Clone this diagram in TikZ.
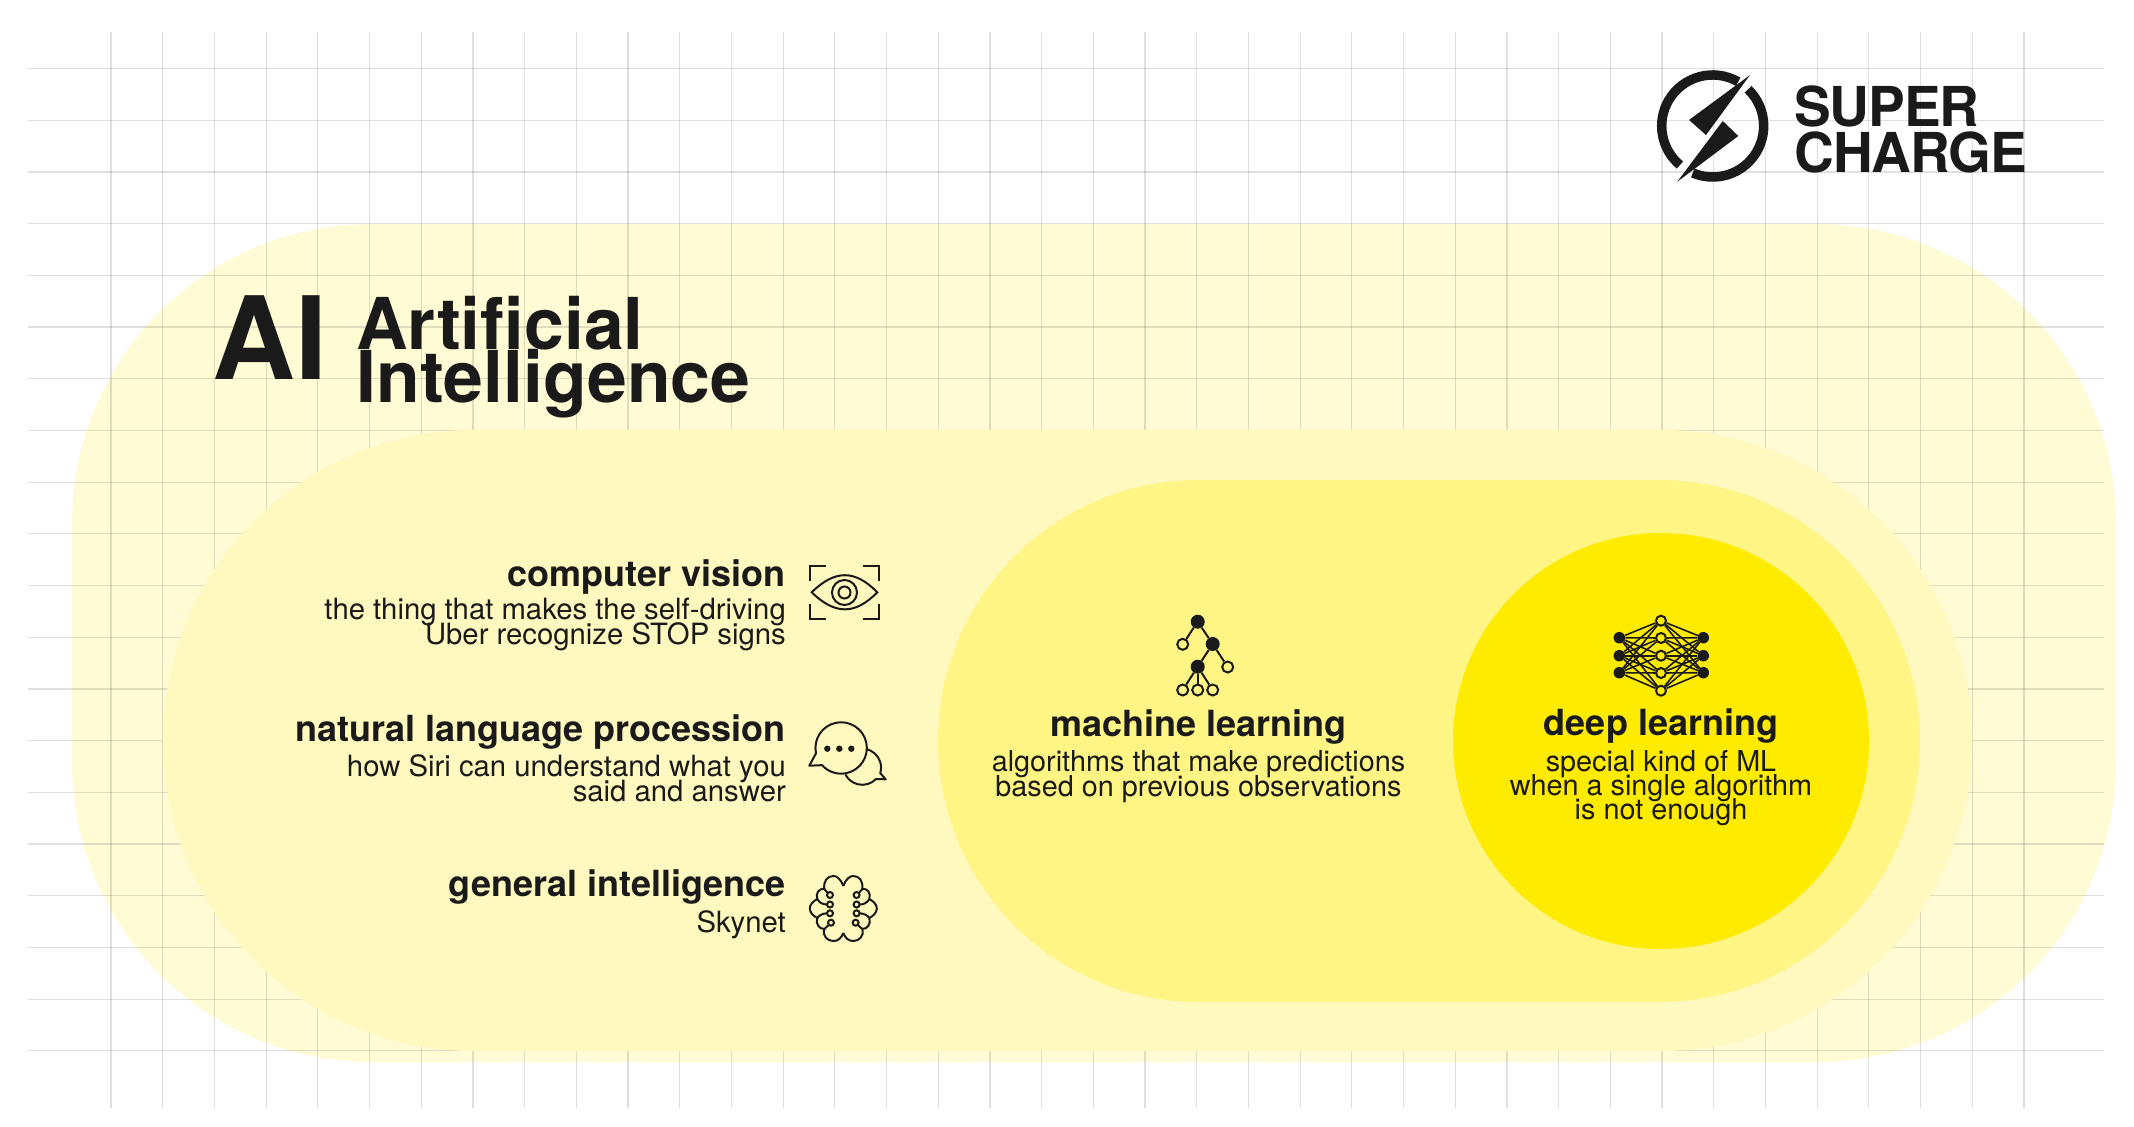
\documentclass[tikz,border=0pt]{standalone}
\usepackage{fontspec}
\setmainfont{TeX Gyre Heros}
\definecolor{ink}{HTML}{1A1A1A}
\definecolor{pillone}{HTML}{FFFBD5}
\definecolor{pilltwo}{HTML}{FFF9BF}
\definecolor{pillthree}{HTML}{FFF584}
\definecolor{pillfour}{HTML}{FFEB00}
\tikzset{
	gridline/.style={black,opacity=0.12,line width=1.2pt},
	iconline/.style={draw=ink,line width=2pt},
	netline/.style={draw=ink,line width=1.6pt},
	head/.style={anchor=base east,inner sep=0pt,text=ink,font=\fontsize{36}{36}\selectfont\bfseries},
	desc/.style={anchor=base east,inner sep=0pt,text=ink,font=\fontsize{29.3}{29.3}\selectfont},
	headmid/.style={anchor=base,inner sep=0pt,text=ink,font=\fontsize{36}{36}\selectfont\bfseries},
	descmid/.style={anchor=base,inner sep=0pt,text=ink,font=\fontsize{28.8}{28.8}\selectfont},
	fulldot/.style={circle,fill=ink,inner sep=0pt,minimum size=#1},
	ringdot/.style={circle,draw=ink,line width=2pt,inner sep=0pt,minimum size=11pt}
}
\begin{document}
\begin{tikzpicture}[x=1pt,y=-1pt]
		
		\useasboundingbox (0,0) rectangle (2134,1127);
		\fill[white] (0,0) rectangle (2134,1127);
		
		% Outer pill
		\fill[pillone,rounded corners=300pt] (72,224) rectangle (2116,1062);
		
		% Grid
		\foreach \k in {0,...,37}
			\draw[gridline] ({111+\k*51.7},32) -- ({111+\k*51.7},1108);
		\foreach \k in {0,...,19}
			\draw[gridline] (28,{68.5+\k*51.7}) -- (2104,{68.5+\k*51.7});
		
		% Inner pills
		\fill[pilltwo,rounded corners=311pt] (163,430) rectangle (1972,1051);
		\fill[pillthree,rounded corners=261pt] (938,480) rectangle (1920,1002);
		\fill[pillfour] (1661,741) circle (208pt);
		
		% Logo
		\draw[ink,line width=9.5pt] (1738.2,81.8) arc[start angle=60,end angle=230,radius=51pt];
		\draw[ink,line width=9.5pt] (1748.1,89.3) arc[start angle=46,end angle=-113,radius=51pt];
		\fill[ink] (1750,75) -- (1689,120) -- (1706,135) -- cycle;
		\fill[ink] (1677.3,181.7) -- (1722.7,121) -- (1738.3,136) -- cycle;
		\node[anchor=base west,inner sep=0pt,text=ink,font=\fontsize{55}{55}\selectfont\bfseries\addfontfeature{LetterSpace=-2}] (logoone) at (1794,126.5) {SUPER};
		\node[anchor=base west,inner sep=0pt,text=ink,font=\fontsize{55}{55}\selectfont\bfseries\addfontfeature{LetterSpace=-2}] (logotwo) at (1794,172.2) {CHARGE};
		
		% Title
		\node[anchor=base west,inner sep=0pt,text=ink,font=\fontsize{115}{115}\selectfont\bfseries] (aititle) at (212,379.5) {AI};
		\node[anchor=base west,inner sep=0pt,text=ink,font=\fontsize{71.5}{71.5}\selectfont\bfseries] (aione) at (356,349) {Artificial};
		\node[anchor=base west,inner sep=0pt,text=ink,font=\fontsize{71.5}{71.5}\selectfont\bfseries] (aitwo) at (356.5,402.5) {Intelligence};
		
		% Left labels
		\node[head] (cvhead) at (786,586) {computer vision};
		\node[desc] (cvone) at (786,619.5) {the thing that makes the self-driving};
		\node[desc] (cvtwo) at (786,644) {Uber recognize STOP signs};
		\node[head] (nlhead) at (786,741) {natural language procession};
		\node[desc] (nlone) at (786,776.7) {how Siri can understand what you};
		\node[desc] (nltwo) at (786,801) {said and answer};
		\node[head] (gihead) at (786,896) {general intelligence};
		\node[desc] (gione) at (786,932.5) {Skynet};
		
		% Middle labels
		\node[headmid] (mlhead) at (1198.5,736) {machine learning};
		\node[descmid] (mlone) at (1198.5,771.7) {algorithms that make predictions};
		\node[descmid] (mltwo) at (1198.5,796) {based on previous observations};
		
		% Right labels
		\node[headmid] (dlhead) at (1661,735) {deep learning};
		\node[descmid] (dlone) at (1661,771) {special kind of ML};
		\node[descmid] (dltwo) at (1661,795) {when a single algorithm};
		\node[descmid] (dlthree) at (1661,819) {is not enough};
		
		% Eye
		\draw[iconline] (810,581) -- (810,566) -- (826,566);
		\draw[iconline] (863,566) -- (879,566) -- (879,581);
		\draw[iconline] (810,604) -- (810,619) -- (826,619);
		\draw[iconline] (863,619) -- (879,619) -- (879,604);
		\draw[iconline] (811.7,592.3) .. controls (835,569.5) and (855,569.5) .. (877.3,592.3) .. controls (855,615) and (835,615) .. cycle;
		\draw[iconline] (844.5,592.5) circle (12.5pt);
		\draw[iconline] (844.5,592.5) circle (6pt);
		
		% Speech bubbles
		\draw[iconline,line join=round] (816,753.3) arc[start angle=192,end angle=-138,radius=25.7pt] -- (809.3,765.7) -- cycle;
		\draw[iconline,line join=round] (866,749) arc[start angle=78,end angle=-17,radius=19pt] -- (885.7,779.3) -- (876,779) arc[start angle=-44,end angle=-153,radius=19pt];
		\foreach \x in {827.3,839.3,851.3}
			\fill[ink] (\x,748.7) circle (3.2pt);
		
		% Brain
		\foreach \s in {1,-1} {
			\begin{scope}[shift={(843.3,0)},xscale=\s]
				\draw[iconline] (0,886) .. controls (-3,878) and (-7,876) .. (-10,876) .. controls (-16,876) and (-20,881) .. (-19,889)
					.. controls (-24,888) and (-28,893) .. (-26,899)
					.. controls (-30,901) and (-34,905) .. (-33.5,909) .. controls (-33,913) and (-30,916) .. (-26,918)
					.. controls (-28,924) and (-24,929) .. (-19,929)
					.. controls (-21,936) and (-16,941) .. (-10,941) .. controls (-5,941) and (-2,938) .. (0,933);
				\foreach \px/\py in {-13.3/895,-13.3/904.5,-13.3/913.3,-12.3/922.7}
					\draw[iconline] (\px,\py) circle (3pt);
				\draw[iconline] (-19,889) -- (-15.5,893);
				\draw[iconline] (-26,899) .. controls (-24,903) and (-20,904.5) .. (-16.3,904.5);
				\draw[iconline] (-26,918) .. controls (-24,915) and (-20,913.3) .. (-16.3,913.3);
				\draw[iconline] (-19,929) -- (-14.5,925);
			\end{scope}
		}
		
		% Tree
		\node[fulldot=14pt] (ta) at (1197.7,621.7) {};
		\node[fulldot=14pt] (tb) at (1212.7,644) {};
		\node[fulldot=14pt] (tc) at (1197.7,666.7) {};
		\node[ringdot,fill=pillthree] (td) at (1182.7,644.3) {};
		\node[ringdot,fill=pillthree] (te) at (1227.7,667) {};
		\node[ringdot,fill=pillthree] (tf) at (1182.7,690) {};
		\node[ringdot,fill=pillthree] (tg) at (1197.7,690) {};
		\node[ringdot,fill=pillthree] (th) at (1212.7,690) {};
		\foreach \a/\b in {ta/tb,ta/td,tb/tc,tb/te,tc/tf,tc/tg,tc/th}
			\draw[iconline] (\a) -- (\b);
		
		% Network
		\foreach \i/\y in {1/637.7,2/655.7,3/672.7} {
			\node[fulldot=11.5pt] (nl\i) at (1619.3,\y) {};
			\node[fulldot=11.5pt] (nr\i) at (1703.3,\y) {};
		}
		\foreach \j/\y in {1/620.7,2/638,3/655.7,4/673,5/690.7}
			\node[ringdot,fill=pillfour,minimum size=10pt] (nm\j) at (1661,\y) {};
		\foreach \i in {1,2,3}
			\foreach \j in {1,...,5} {
				\draw[netline] (nl\i) -- (nm\j);
				\draw[netline] (nr\i) -- (nm\j);
			}
		
	\end{tikzpicture}
\end{document}
